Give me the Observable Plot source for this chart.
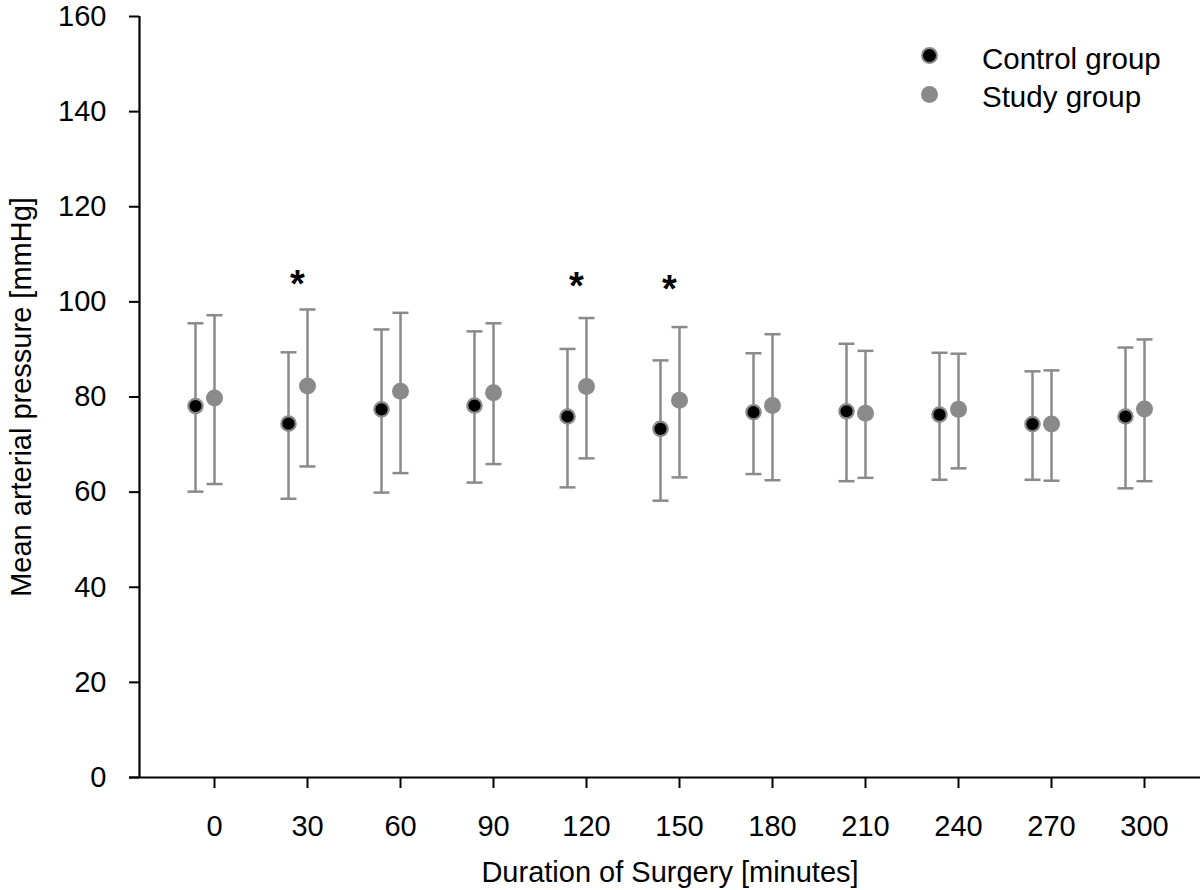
<!DOCTYPE html>
<html>
<head>
<meta charset="utf-8">
<script src="https://cdn.jsdelivr.net/npm/d3@7"></script>
<script src="https://cdn.jsdelivr.net/npm/@observablehq/plot@0.6"></script>
<style>
  body { margin: 0; background: #fff; }
  #wrap { position: relative; width: 1200px; height: 890px; font-family: "Liberation Sans", Arial, sans-serif; }
  .lg-dot { position: absolute; width: 17px; height: 17px; border-radius: 50%; box-sizing: border-box; }
  .lg-txt { position: absolute; font-size: 29.5px; line-height: 32px; color: #000; white-space: nowrap; }
</style>
</head>
<body>
<div id="wrap">
  <div class="lg-dot" style="left:921px;top:47px;background:#000;border:2.5px solid #8a8a8a;"></div>
  <div class="lg-txt" style="left:982px;top:43px;">Control group</div>
  <div class="lg-dot" style="left:921px;top:86px;background:#8a8a8a;"></div>
  <div class="lg-txt" style="left:982px;top:81px;">Study group</div>
</div>
<script>
// Duration of surgery (minutes)
const minutes = [0, 30, 60, 90, 120, 150, 180, 210, 240, 270, 300];
// Control group: mean, upper, lower (mmHg)
const controlMean  = [78.1, 74.4, 77.4, 78.2, 75.9, 73.3, 76.8, 77.0, 76.3, 74.3, 75.9];
const controlUpper = [95.5, 89.4, 94.2, 93.8, 90.1, 87.7, 89.2, 91.2, 89.3, 85.4, 90.4];
const controlLower = [60.1, 58.6, 59.9, 62.0, 61.0, 58.2, 63.8, 62.3, 62.6, 62.6, 60.8];
// Study group: mean, upper, lower (mmHg)
const studyMean  = [79.8, 82.3, 81.2, 80.9, 82.2, 79.3, 78.2, 76.6, 77.4, 74.3, 77.5];
const studyUpper = [97.2, 98.4, 97.7, 95.5, 96.6, 94.7, 93.2, 89.7, 89.1, 85.6, 92.1];
const studyLower = [61.7, 65.4, 64.0, 65.9, 67.1, 63.1, 62.5, 63.0, 65.0, 62.4, 62.3];
// Significance markers
const sigMinutes = [30, 120, 150];
const sigLevel = [105.4, 105.0, 104.4];
const yTicks = [0, 20, 40, 60, 80, 100, 120, 140, 160];

const control = minutes.map((t, i) => ({t, mean: controlMean[i], hi: controlUpper[i], lo: controlLower[i]}));
const study = minutes.map((t, i) => ({t, mean: studyMean[i], hi: studyUpper[i], lo: studyLower[i]}));
const sig = sigMinutes.map((t, i) => ({t, y: sigLevel[i]}));

const gray = "#8a8a8a";
const cap = {
  draw(context, size) {
    const r = Math.sqrt(size / Math.PI);
    context.moveTo(-r, 0);
    context.lineTo(r, 0);
  }
};
const cDx = -19;
const insetL = 75;

const chart = Plot.plot({
  width: 1200,
  height: 890,
  marginLeft: 139,
  marginRight: 0,
  marginTop: 16,
  marginBottom: 113,
  style: {fontFamily: "Liberation Sans, Arial, sans-serif", fontSize: "29px", color: "#000", background: "#fff"},
  x: {type: "linear", domain: [0, 300], insetLeft: insetL, insetRight: 56},
  y: {domain: [0, 160]},
  marks: [
    Plot.axisY({ticks: yTicks, tickSize: 10, tickPadding: 23, strokeWidth: 2, stroke: "#000",
      label: "Mean arterial pressure [mmHg]", labelAnchor: "center", labelArrow: "none", labelOffset: 129}),
    Plot.axisX({ticks: minutes, tickSize: 11, tickPadding: 27, strokeWidth: 2, stroke: "#000",
      label: "Duration of Surgery [minutes]", labelAnchor: "center", labelArrow: "none", labelOffset: 104}),
    // axis lines
    Plot.ruleY([0], {stroke: "#000", strokeWidth: 2.2, insetLeft: -10}),
    Plot.ruleX([minutes[0]], {y1: yTicks[0], y2: yTicks[yTicks.length - 1], dx: -insetL, stroke: "#000", strokeWidth: 2.2}),
    // control error bars
    Plot.ruleX(control, {x: "t", y1: "lo", y2: "hi", dx: cDx, stroke: gray, strokeWidth: 2.5}),
    Plot.dot(control, {x: "t", y: "hi", dx: cDx, symbol: cap, r: 8, stroke: gray, strokeWidth: 2.5, fill: "none"}),
    Plot.dot(control, {x: "t", y: "lo", dx: cDx, symbol: cap, r: 8, stroke: gray, strokeWidth: 2.5, fill: "none"}),
    // study error bars
    Plot.ruleX(study, {x: "t", y1: "lo", y2: "hi", stroke: gray, strokeWidth: 2.5}),
    Plot.dot(study, {x: "t", y: "hi", symbol: cap, r: 8, stroke: gray, strokeWidth: 2.5, fill: "none"}),
    Plot.dot(study, {x: "t", y: "lo", symbol: cap, r: 8, stroke: gray, strokeWidth: 2.5, fill: "none"}),
    // means
    Plot.dot(control, {x: "t", y: "mean", dx: cDx, r: 7.2, fill: "#000", stroke: gray, strokeWidth: 2.2}),
    Plot.dot(study, {x: "t", y: "mean", r: 8.5, fill: gray, stroke: "none"}),
    // significance
    Plot.text(sig, {x: "t", y: "y", text: () => "*", dx: -10, dy: 9, fontSize: 38, fontWeight: "bold", fill: "#000"})
  ]
});
document.getElementById("wrap").prepend(chart);
</script>
</body>
</html>
